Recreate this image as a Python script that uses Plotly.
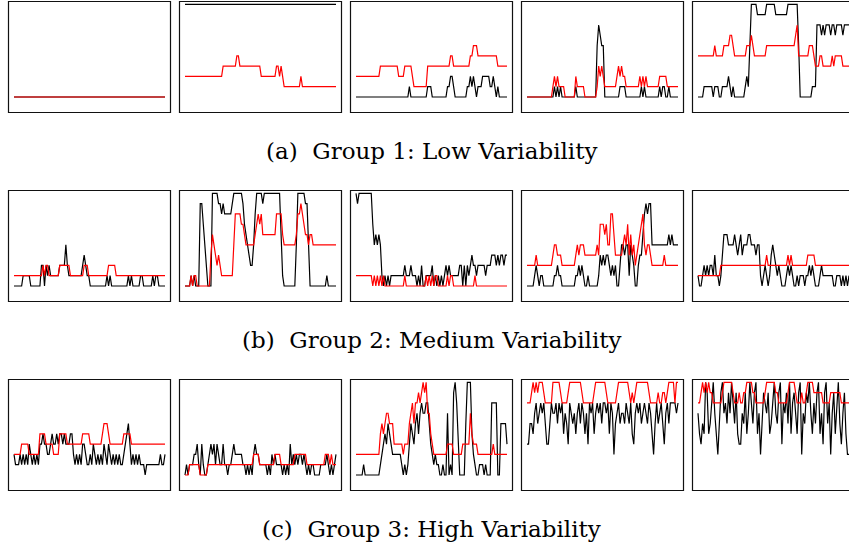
import plotly.graph_objects as go

# ---------------- data: per-step discrete levels (0..9), one digit per time step ----------------
# Group 1 (row a)
G1_BLACK = [
    "0000000000" "0000000000" "0000000000" "0000000000" "0000000000"
    "0000000000" "0000000000" "0000000000" "0000000000" "0000000000",
    "9999999999" "9999999999" "9999999999" "9999999999" "9999999999"
    "9999999999" "9999999999" "9999999999" "9999999999" "9999999999",
    "0000000000" "0000000000" "0000000000" "0000010000" "0000000111"
    "0000000000" "1122100000" "0001121210" "1112222211" "2101000000",
    "0000000000" "0000000010" "1010000000" "0010000000" "0000005765"
    "5000000000" "0111100000" "0000010100" "0000000101" "1001000000",
    "0000111111" "0111001111" "2101000000" "0121599998" "8888899999"
    "9888888889" "9999995000" "0000011177" "7676777677" "6777767777",
]
G1_RED = [
    "0000000000" "0000000000" "0000000000" "0000000000" "0000000000"
    "0000000000" "0000000000" "0000000000" "0000000000" "0000000000",
    "2222222222" "2222222222" "2222233333" "3333443333" "3333333333"
    "2222222222" "3323211111" "1111112111" "1111111111" "1111111111",
    "2222222222" "2222223333" "3333333322" "2233333211" "1111111333"
    "3333333333" "3344333333" "3333344555" "4444444444" "4443333333",
    "0000000000" "0000000121" "2111100000" "0021111100" "0000001323"
    "2111111112" "3232211111" "1111212121" "1111111222" "2211111111",
    "4444444444" "4544444555" "5665444444" "4455565444" "4444455555"
    "5555555555" "5555674444" "4445554333" "4433333343" "4444433333",
]
# Group 2 (row b)
G2_BLACK = [
    "0000001111" "1000000022" "0212111111" "2222421111" "1111123211"
    "0000000000" "0101000000" "0000010100" "0001100000" "0101100000",
    "0000101000" "8864200099" "9988787777" "7899999986" "5432247999"
    "9899999999" "9995100000" "0004999998" "8400000000" "0001000000",
    "9899999999" "9645454101" "0101111111" "1121112111" "0102001111"
    "2010101012" "1211111122" "0202123221" "2222212223" "3323233233",
    "0000012101" "1000000011" "2110000000" "0011212100" "1000000132"
    "3233212120" "0244344143" "2002335787" "8844444444" "4445454444",
    "1001212122" "1311013555" "4444543453" "4445544434" "4101210134"
    "3212100012" "1210010111" "0112121000" "1211111110" "0111010101",
]
G2_RED = [
    "1111111111" "1111111112" "1221111111" "2222222111" "1111112221"
    "1111111111" "1122222111" "1111111111" "1111111111" "1111111111",
    "0000101100" "0000000354" "3232111111" "1147777665" "4444445676"
    "7555555555" "7777544444" "4445778765" "5455444444" "4444444444",
    "1111111111" "1010101010" "0000000000" "0010000000" "0000001010"
    "1011000000" "1011000000" "0000000010" "0000000000" "0000000000",
    "2222223222" "2222222344" "3332222222" "2234344433" "3333334366"
    "6564477533" "3334546353" "4234567434" "4322222222" "3222222222",
    "1111111111" "1111122222" "2222222222" "2222222222" "2222232222"
    "2222222223" "2322222222" "2233333222" "2222222222" "2222222222",
]
# Group 3 (row c)
G3_BLACK = [
    "2111212121" "3212121334" "3322343343" "4434333442" "1212133211"
    "2132121213" "2132121212" "1123453121" "2121110111" "1111112112",
    "0101112231" "0310012323" "1321131101" "1232222211" "0101023221"
    "1111010212" "1111010103" "1212122121" "0101100001" "1112101012",
    "0000010000" "0000001234" "3543222222" "1010135435" "6467667753"
    "2121100100" "6010897300" "0059994210" "0111010007" "7770055553",
    "3355467567" "6753357667" "5767465376" "5646757646" "3767467675"
    "7767476256" "7566576574" "3676756765" "7642575675" "3675777767",
    "6435498457" "9642589675" "8697584336" "5846975894" "6258768457"
    "9658937685" "9478648926" "5879647589" "4638957268" "4795368422",
]
G3_RED = [
    "2222233333" "2222222444" "4333332222" "4444433333" "3333344444"
    "3333333345" "5543333333" "3344444333" "3333333333" "3333333333",
    "0001111111" "0000011111" "1111111111" "1111111111" "1111122221"
    "1111111112" "2221111111" "1122222222" "1111111111" "1122212111",
    "2222222222" "2222224545" "6655533333" "3233356757" "7878989664"
    "3222222222" "3333222222" "3333364333" "2222222222" "3222222222",
    "7778989899" "9877777999" "9987777899" "9999998777" "7777899999"
    "9987777778" "9999999878" "7899999999" "8777778778" "8789999799",
    "7789898988" "7777778999" "9998777877" "8899998877" "7777899999"
    "9887777778" "9999877787" "7899998888" "8877777888" "8888777777",
]
CAPTIONS = ["(a)  Group 1: Low Variability",
            "(b)  Group 2: Medium Variability",
            "(c)  Group 3: High Variability"]

GROUPS = [(G1_BLACK, G1_RED), (G2_BLACK, G2_RED), (G3_BLACK, G3_RED)]

# ---------------- layout geometry (pixels) ----------------
W, H = 849, 549
COL_LEFT = [8.5, 179.5, 350.5, 521.5, 692.5]
PW = 162.0
ROW_TOP = [1.5, 190.5, 379.5]
PH = 111.0
INSET = 5.5          # horizontal data inset inside a panel
LEVEL_PX = 10.29     # pixels per level
ZERO_BELOW_TOP = 95.5
CAP_Y = [151, 340, 529]
CAP_X = 432

fig = go.Figure()
shapes = []
k = 0
for r, (blacks, reds) in enumerate(GROUPS):
    top = ROW_TOP[r]
    bot = top + PH
    for c in range(5):
        k += 1
        left = COL_LEFT[c]
        right = left + PW
        vis_right = min(right, W)
        n = len(blacks[c])
        span = n - 1
        ppu = (PW - 2 * INSET) / span
        x0 = -INSET / ppu
        x1 = x0 + (vis_right - left) / ppu
        y1 = ZERO_BELOW_TOP / LEVEL_PX
        y0 = -(PH - ZERO_BELOW_TOP) / LEVEL_PX
        ax = dict(domain=[left / W, vis_right / W], range=[x0, x1],
                  showgrid=False, zeroline=False, showticklabels=False,
                  ticks="", showline=False, fixedrange=True)
        ay = dict(domain=[1 - bot / H, 1 - top / H], range=[y0, y1],
                  showgrid=False, zeroline=False, showticklabels=False,
                  ticks="", showline=False, fixedrange=True)
        sfx = "" if k == 1 else str(k)
        ax["anchor"] = "y" + sfx
        ay["anchor"] = "x" + sfx
        fig.update_layout(**{"xaxis" + sfx: ax, "yaxis" + sfx: ay})
        for series, col in ((blacks[c], "#000000"), (reds[c], "#ff0000")):
            vals = [int(ch) for ch in series]
            fig.add_trace(go.Scatter(
                x=list(range(len(vals))), y=vals, mode="lines",
                line=dict(color=col, width=1.2), xaxis="x" + sfx, yaxis="y" + sfx,
                hoverinfo="skip", showlegend=False))
        shapes.append(dict(type="rect", xref="paper", yref="paper",
                           x0=left / W, x1=right / W,
                           y0=1 - bot / H, y1=1 - top / H,
                           line=dict(color="#111111", width=1.2), layer="above"))

annotations = []
for r, cap in enumerate(CAPTIONS):
    annotations.append(dict(text=cap, xref="paper", yref="paper",
                            x=CAP_X / W, y=1 - CAP_Y[r] / H,
                            xanchor="center", yanchor="middle", showarrow=False,
                            font=dict(family="DejaVu Serif", size=23, color="#000000")))

fig.update_layout(width=W, height=H, margin=dict(l=0, r=0, t=0, b=0),
                  paper_bgcolor="white", plot_bgcolor="white",
                  shapes=shapes, annotations=annotations, showlegend=False)
fig.write_html("out.html")
